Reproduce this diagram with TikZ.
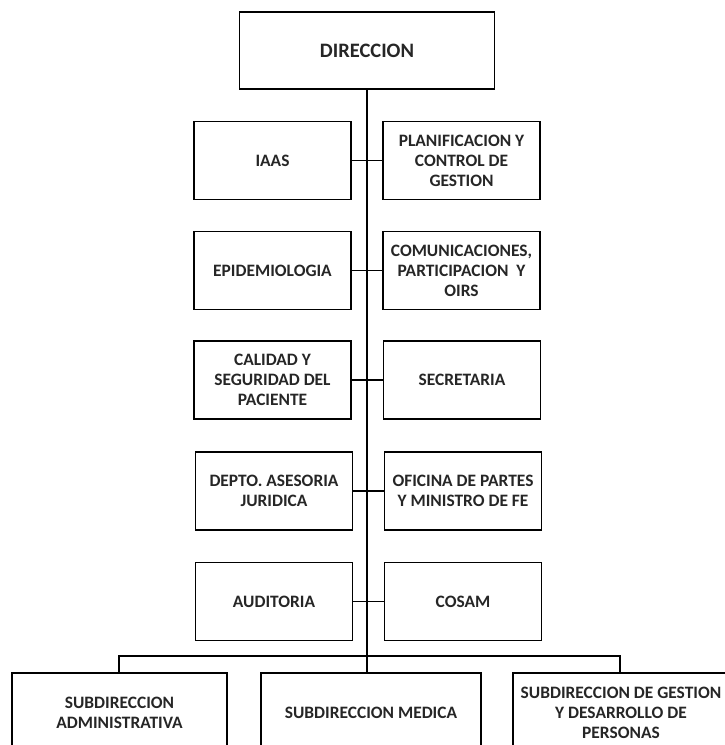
\documentclass[tikz,border=0pt]{standalone}
\usepackage{fontspec}
\setmainfont{Carlito}
\begin{document}
\begin{tikzpicture}[x=1pt,y=-1pt,
  box/.style={draw=black,line width=1.5pt,fill=white,align=center,
    font=\fontsize{17.4}{20}\selectfont\bfseries,text=black!85,
    inner sep=0pt,minimum width=157pt,minimum height=78pt},
  topbox/.style={box,minimum width=255pt,minimum height=77pt,
    font=\fontsize{20.5}{23}\selectfont\bfseries},
  subbox/.style={box,minimum height=80pt},
  link/.style={draw=black,line width=1.3pt}]
\useasboundingbox (0,0) rectangle (725,745);
\node[topbox] (dir) at (367,50.5) {DIRECCION};
\coordinate (bus) at (367,656);
\coordinate (busL) at (119,656);
\coordinate (busR) at (620,656);
% spine
\path[link] (dir.south) -- (bus);
% rows
\node[box] (l1) at (272.5,160.5) {IAAS};
\node[box] (r1) at (461.5,160.5) {PLANIFICACION Y\\CONTROL DE\\GESTION};
\node[box] (l2) at (272.5,270.5) {EPIDEMIOLOGIA};
\node[box] (r2) at (461.5,270.5) {COMUNICACIONES,\\PARTICIPACION\ \ Y\\OIRS};
\node[box] (l3) at (272.5,380) {CALIDAD Y\\SEGURIDAD DEL\\PACIENTE};
\node[box] (r3) at (462,380) {SECRETARIA};
\node[box] (l4) at (274,491) {DEPTO. ASESORIA\\JURIDICA};
\node[box] (r4) at (463,491) {OFICINA DE PARTES\\Y MINISTRO DE FE};
\node[box] (l5) at (274,601.5) {AUDITORIA};
\node[box] (r5) at (463,601.5) {COSAM};
\foreach \i in {1,...,5} {\path[link] (l\i.east) -- (r\i.west);}
% bottom
\begin{scope}
\clip (0,0) rectangle (725,745);
\node[subbox,minimum width=215pt] (sa) at (119.5,713) {SUBDIRECCION\\ADMINISTRATIVA};
\node[subbox,minimum width=220pt] (sm) at (371,713) {SUBDIRECCION MEDICA};
\node[subbox,minimum width=216pt] (sg) at (621,713) {SUBDIRECCION DE GESTION\\Y DESARROLLO DE\\PERSONAS};
\end{scope}
\path[link] (sa.north -| busL) -- (busL) -- (busR) -- (sg.north -| busR);
\path[link] (bus) -- (sm.north -| bus);
\end{tikzpicture}
\end{document}
